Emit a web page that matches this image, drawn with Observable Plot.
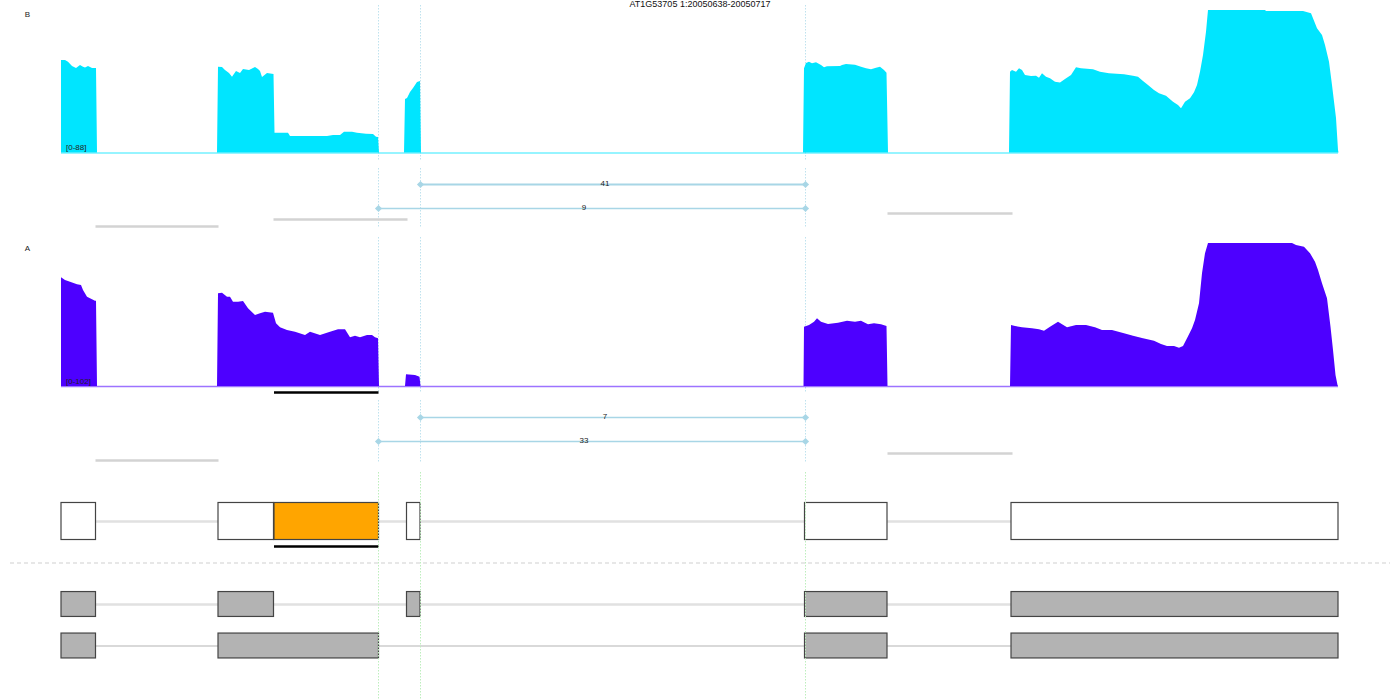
<!DOCTYPE html>
<html><head><meta charset="utf-8">
<script src="https://cdn.jsdelivr.net/npm/d3@7"></script>
<script src="https://cdn.jsdelivr.net/npm/@observablehq/plot@0.6"></script>
<style>
body{margin:0;background:#fff;font-family:"Liberation Sans",Arial,sans-serif;}
#wrap{position:relative;width:1400px;height:700px;overflow:hidden}
#title{position:absolute;top:0;left:0;width:1400px;text-align:center;font-size:9px;line-height:9px;color:#111;z-index:2}
#charts svg{display:block}
</style></head><body>
<div id="wrap"><div id="title"></div><div id="charts"></div></div>
<script>
// ---------------- data ----------------
const title = "AT1G53705 1:20050638-20050717";
const sampleNames = ["B", "A"];
const rangeLabels = ["[0-88]", "[0-102]"];
const covMax = [88, 102];

// coverage [position, depth]
const covB = [
  [61,0],[61,57.1],[65,57.1],[68,56.0],[72,53.4],[76,52.2],[80,54.0],[83,53.0],[85,52.5],[88,53.4],[92,52.2],[96,52.2],[97,0],
  [217,0],[218,53.0],[222,52.8],[225,50.9],[229,49.1],[232,46.8],[236,50.3],[240,49.1],[243,51.6],[249,50.9],[255,52.8],[258,51.6],[260,50.3],[262,46.6],[267,49.1],[273.5,48.5],
  [274.5,12.2],[288,12.2],[290,10.2],[327,10.2],[333,10.8],[340,10.8],[344,12.8],[352,12.8],[357,12.2],[366,11.6],[373,11.4],[376,9.8],[378,9.6],[379,0],
  [404,0],[405,33.0],[407,33.6],[410,37.4],[413,39.8],[417,43.5],[420,44.2],[421,0],
  [803,0],[804,52.0],[806,55.3],[809,56.1],[812,55.1],[816,55.7],[821,54.0],[824,52.6],[827,53.2],[840,53.4],[842,54.0],[846,54.6],[855,54.2],[861,53.0],[866,52.0],[871,51.4],[876,52.4],[880,53.0],[884,50.9],[886.5,49.3],[888,0],
  [1009,0],[1010,49.9],[1012,50.9],[1016,49.9],[1019,52.0],[1022,50.9],[1025,47.9],[1031,47.2],[1036,47.4],[1039,46.2],[1042,48.9],[1046,46.8],[1050,45.8],[1055,43.7],[1060,43.3],[1065,45.4],[1071,47.9],[1076,52.6],[1081,52.0],[1093,51.4],[1100,49.9],[1109,48.9],[1124,48.3],[1133,47.4],[1138,46.8],[1143,44.2],[1148,41.7],[1154,38.6],[1159,36.6],[1166,35.1],[1173,31.4],[1178,29.3],[1181,27.3],[1185,31.4],[1190,33.5],[1194,37.2],[1197,41.7],[1200,49.9],[1203,60.2],[1206,74.6],[1208,88],[1265,88],[1266,87.4],[1303,87.4],[1311,86.0],[1317,76.7],[1322,72.6],[1325,66.4],[1329,56.1],[1332,41.7],[1336,21.3],[1338,1.5],[1338.5,0]
];
const covA = [
  [61,0],[61,77.5],[65,75.6],[70,74.4],[77,72.6],[81,72.1],[83,68.5],[87,63.7],[90,62.6],[95,60.8],[96,60.8],[97,0],
  [217,0],[218,66.1],[222,66.6],[227,63.7],[230,63.7],[233,60.1],[238,60.1],[243,60.6],[248,55.4],[255,50.6],[260,51.9],[265,53.0],[273,52.3],[276,44.7],[280,41.9],[287,39.9],[295,38.7],[305,36.4],[310,38.7],[320,36.4],[330,38.7],[338,40.4],[345,40.4],[350,34.7],[355,35.9],[360,34.7],[367,36.4],[372,36.4],[375,34.7],[378,34.0],[379,0],
  [405,0],[406,8.3],[415,7.8],[419.5,6.6],[420.5,0],
  [803.5,0],[804,42.3],[809,43.5],[814,45.9],[817,48.3],[821,45.9],[828,44.2],[838,45.1],[847,46.6],[855,45.9],[861,46.6],[868,44.0],[874,44.7],[881,44.0],[886.5,42.8],[887.5,0],
  [1010,0],[1011,43.5],[1015,42.8],[1022,41.9],[1032,41.2],[1039,40.4],[1044,39.4],[1050,42.3],[1058,45.9],[1067,41.9],[1076,43.5],[1086,43.5],[1095,41.9],[1102,39.9],[1112,39.9],[1124,37.6],[1133,35.9],[1143,34.0],[1154,32.3],[1161,30.0],[1167,28.5],[1174,28.5],[1179,27.2],[1183,28.5],[1187,34.0],[1192,41.2],[1195,47.1],[1199,59.0],[1202,80.4],[1205,94.7],[1208,102],[1292,102],[1296,100.6],[1304,99.4],[1310,94.7],[1315,88.7],[1318,82.7],[1322,73.3],[1327,62.6],[1330.5,42.3],[1333,25.7],[1335.5,7.8],[1337.5,0.7],[1338,0]
];

// junctions (lane = stacking row)
const juncB = [{start:420, end:805, count:41, lane:1}, {start:378, end:805, count:9, lane:2}];
const juncA = [{start:420, end:805, count:7, lane:1}, {start:378, end:805, count:33, lane:2}];
// intronic read levels
const gapsB = [{start:95, end:218, level:2.75}, {start:273, end:407, level:2.46}, {start:887, end:1012, level:2.21}];
const gapsA = [{start:95, end:218, level:2.79}, {start:887, end:1012, level:2.5}];

// gene models
const transcripts = ["T1", "sep", "T2", "T3"];
const exonsT1 = [{start:61,end:95.5},{start:218,end:273.5},{start:274,end:378.5,selected:true},{start:406.5,end:420},{start:804.5,end:887},{start:1011,end:1338}];
const exonsT2 = [{start:61,end:95.5},{start:218,end:273.5},{start:406.5,end:420},{start:804.5,end:887},{start:1011,end:1338}];
const exonsT3 = [{start:61,end:95.5},{start:218,end:378.5},{start:804.5,end:887},{start:1011,end:1338}];

// ---------------- layout / style ----------------
const W = 1400;
const font = "Liberation Sans, Arial, sans-serif";
const colors = {B:"#00e5ff", A:"#4d00ff"};
const siteColor = "#bfe2ee", siteGreen = "#bdeebd", juncColor = "#a8d6e6";
const sites = Array.from(new Set([...juncB, ...juncA].flatMap(d => [d.start, d.end]))).sort((a,b)=>a-b);
const span = {start: d3.min(exonsT1, d => d.start), end: d3.max(exonsT1, d => d.end)};
document.getElementById("title").textContent = title;
const charts = document.getElementById("charts");

function sitesRule(color, insetTop, insetBottom) {
  return Plot.ruleX(sites, {x: d => d, stroke: color, strokeWidth: 1, strokeDasharray: "1.5,1.5", insetTop, insetBottom});
}

function covPlot(data, name, label, max, color, h, base, top) {
  return Plot.plot({
    width: W, height: h, margin: 0, axis: null,
    style: {fontFamily: font, background: "transparent"},
    x: {domain: [0, W]},
    y: {domain: [0, max], range: [base, top]},
    marks: [
      sitesRule(siteColor, name === "B" ? 5 : 2, 0),
      Plot.ruleY([span], {y: () => 0, x1: "start", x2: "end", stroke: color, strokeOpacity: 0.55, strokeWidth: 1.5}),
      Plot.areaY(data, {x: d => d[0], y: d => d[1], fill: color}),
      Plot.text([name], {frameAnchor: "top-left", dx: 27, dy: name === "B" ? 14 : 13, text: d => d, fontSize: 8, fill: "#222", textAnchor: "middle", lineAnchor: "middle"}),
      Plot.text([label], {x: () => span.start, y: () => 0, dx: 4.5, dy: -5.5, text: d => d, fontSize: 8, fill: "#222", textAnchor: "start"})
    ]
  });
}

function juncPlot(junc, gaps, h, insetTop, insetBottom) {
  const ends = junc.flatMap(d => [{x: d.start, lane: d.lane}, {x: d.end, lane: d.lane}]);
  return Plot.plot({
    width: W, height: h, margin: 0, axis: null,
    style: {fontFamily: font, background: "transparent"},
    x: {domain: [0, W]},
    y: {domain: [0, 3], range: [0, 72]},
    marks: [
      sitesRule(siteColor, insetTop, insetBottom),
      Plot.link(gaps, {x1: "start", x2: "end", y1: "level", y2: "level", stroke: "#d3d3d3", strokeWidth: 2.5}),
      Plot.link(junc, {x1: "start", x2: "end", y1: "lane", y2: "lane", stroke: juncColor, strokeWidth: d => d.count > 30 && d.lane === 1 ? 2 : 1.5}),
      Plot.dot(ends, {x: "x", y: "lane", symbol: "diamond2", r: 3.2, fill: juncColor, stroke: "none"}),
      Plot.text(junc, {x: d => (d.start + d.end) / 2, y: "lane", text: d => String(d.count), dx: -8, dy: -1, fontSize: 8, fill: "#222"})
    ]
  });
}

function genePlot() {
  const rowOf = {T1: 0, sep: 1, T2: 2, T3: 3};
  const half = {T1: 0.446, T2: 0.3, T3: 0.3};
  const boxes = [
    ...exonsT1.map(e => ({...e, tx: "T1"})),
    ...exonsT2.map(e => ({...e, tx: "T2"})),
    ...exonsT3.map(e => ({...e, tx: "T3"}))
  ];
  const introns = [
    {tx: "T1", start: span.start, end: span.end, w: 2.5, c: "#e1e1e1"},
    {tx: "T2", start: span.start, end: span.end, w: 2.5, c: "#e1e1e1"},
    {tx: "T3", start: span.start, end: span.end, w: 1.5, c: "#cdcdcd"}
  ];
  const sel = exonsT1.filter(d => d.selected);
  return Plot.plot({
    width: W, height: 230, margin: 0, axis: null,
    style: {fontFamily: font, background: "transparent"},
    x: {domain: [0, W]},
    y: {domain: [0, 3], range: [51, 175.5]},
    marks: [
      Plot.ruleY(["sep"], {y: d => rowOf[d], stroke: "#cfcfcf", strokeDasharray: "4,3", strokeWidth: 1, insetLeft: 10, insetRight: 10}),
      Plot.ruleY(introns, {y: d => rowOf[d.tx], x1: "start", x2: "end", stroke: d => d.c, strokeWidth: d => d.w}),
      Plot.rect(boxes, {
        x1: "start", x2: "end",
        y1: d => rowOf[d.tx] - half[d.tx], y2: d => rowOf[d.tx] + half[d.tx],
        fill: d => d.tx === "T1" ? (d.selected ? "#ffa500" : "#ffffff") : "#b3b3b3",
        stroke: "#444", strokeWidth: 1.2
      }),
      Plot.ruleY(sel, {y: () => rowOf.T1 + 0.6, x1: "start", x2: "end", stroke: "#000", strokeWidth: 2.5}),
      sitesRule(siteGreen, 2, 0)
    ]
  });
}

charts.append(
  covPlot(covB, sampleNames[0], rangeLabels[0], covMax[0], colors.B, 160, 152.5, 10),
  juncPlot(juncB, gapsB, 75, 8, 7),
  covPlot(covA, sampleNames[1], rangeLabels[1], covMax[1], colors.A, 158, 151, 8),
  juncPlot(juncA, gapsA, 77, 7, 8),
  genePlot()
);

// the selected-feature underline below track A
const underline = Plot.plot({
  width: W, height: 6, margin: 0, axis: null,
  x: {domain: [0, W]}, y: {domain: [0, 1], range: [0, 6]},
  marks: [Plot.ruleY(exonsT1.filter(d => d.selected), {y: () => 0.5, x1: "start", x2: "end", stroke: "#000", strokeWidth: 2.5})]
});
underline.style.position = "absolute";
underline.style.left = "0px";
underline.style.top = "389px";
document.getElementById("wrap").append(underline);
</script>
</body></html>
